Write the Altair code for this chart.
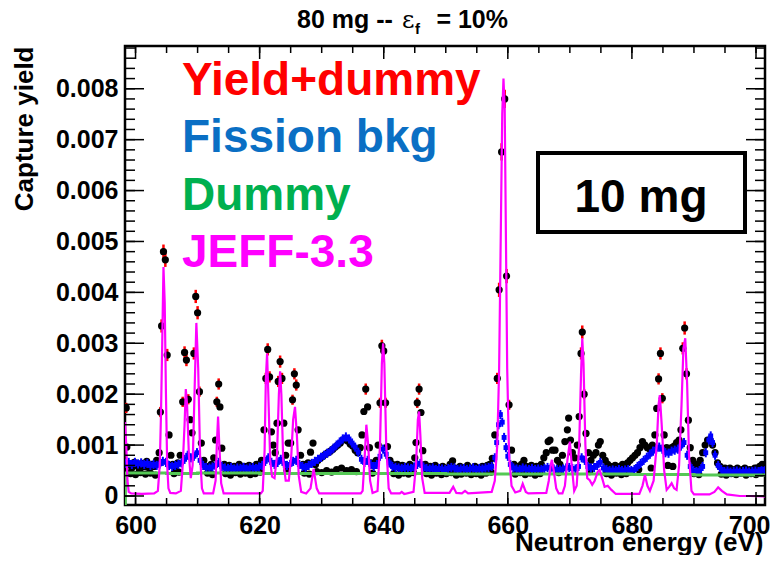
import altair as alt
import pandas as pd

FONT = "Liberation Sans"
W, H = 640, 459
X_DOM = [598.3, 701.45]
Y_DOM = [-0.000177, 0.00884]

# Yield+dummy points: (energy eV, yield x1e-3, [error x1e-3])
YIELD = [
    (598.5, 1.73, 0.1), (598.6, 0.96), (598.8, 0.45), (599.0, 0.62), (599.4, 0.55), (599.8, 0.66),
    (600.2, 0.60), (600.6, 0.52), (601.0, 0.64), (601.4, 0.58), (601.8, 0.68), (602.2, 0.55),
    (602.6, 0.62), (603.0, 0.58), (603.4, 0.70), (603.8, 0.85), (604.0, 1.65, 0.1), (604.2, 3.34, 0.13),
    (604.5, 4.80, 0.14), (604.8, 4.64, 0.14), (605.1, 2.77, 0.12), (605.4, 1.20), (605.7, 0.80),
    (606.0, 0.62), (606.4, 0.55), (606.8, 0.65), (607.2, 0.80), (607.6, 1.85, 0.1), (607.9, 2.82, 0.12),
    (608.2, 2.67, 0.12), (608.5, 1.90, 0.1), (608.8, 1.50), (609.1, 1.24), (609.4, 2.80, 0.12),
    (609.7, 3.92, 0.13), (610.0, 3.60, 0.13), (610.3, 2.05, 0.1), (610.6, 1.04), (611.0, 0.70),
    (611.4, 0.58), (611.8, 0.52), (612.2, 0.62), (612.6, 0.75), (612.9, 1.10), (613.1, 1.85, 0.1),
    (613.4, 2.20, 0.11), (613.6, 1.75), (613.9, 0.94), (614.3, 0.62), (614.7, 0.55), (615.1, 0.60),
    (615.5, 0.50), (615.9, 0.58), (616.3, 0.55), (616.7, 0.62), (617.1, 0.52), (617.5, 0.58),
    (617.9, 0.50), (618.3, 0.60), (618.7, 0.55), (619.1, 0.58), (619.5, 0.62), (619.9, 0.55),
    (620.3, 0.70), (620.7, 1.30), (621.0, 2.31, 0.11), (621.3, 2.88, 0.12), (621.6, 2.34, 0.11),
    (621.9, 1.26), (622.2, 1.00), (622.5, 0.85), (622.8, 1.43), (623.0, 2.25, 0.11), (623.3, 2.64, 0.12),
    (623.6, 2.31, 0.11), (623.9, 1.43), (624.2, 0.80), (624.6, 1.04), (625.0, 1.04), (625.3, 1.89, 0.1),
    (625.6, 2.40, 0.11), (625.9, 2.18, 0.11), (626.2, 1.30), (626.6, 0.80), (627.0, 0.62), (627.4, 0.58),
    (627.8, 0.65), (628.2, 0.86), (628.6, 1.04), (629.0, 0.62), (629.4, 0.70), (629.8, 0.74),
    (630.2, 0.78), (630.6, 0.82), (631.0, 0.85), (631.4, 0.88), (631.8, 0.92), (632.2, 0.96),
    (632.6, 1.00), (633.0, 1.04), (633.4, 1.10), (633.8, 1.12), (634.2, 1.08), (634.6, 1.02),
    (635.0, 0.98), (635.4, 0.90), (635.8, 0.85), (636.2, 0.95), (636.5, 1.20), (636.8, 1.66),
    (637.1, 2.10, 0.11), (637.4, 1.75), (637.7, 0.95), (638.0, 0.65), (638.4, 0.60), (638.8, 0.70),
    (639.1, 1.00), (639.4, 1.83, 0.1), (639.7, 2.95, 0.12), (640.0, 2.85, 0.12), (640.3, 1.83, 0.1),
    (640.6, 0.97), (641.0, 0.70), (641.4, 0.62), (641.8, 0.58), (642.2, 0.62), (642.6, 0.55),
    (643.0, 0.60), (643.4, 0.58), (643.8, 0.55), (644.2, 0.62), (644.6, 0.58), (645.0, 0.75),
    (645.2, 1.05), (645.4, 1.83, 0.1), (645.7, 2.10, 0.11), (646.0, 1.64), (646.3, 0.89), (646.7, 0.62),
    (647.1, 0.55), (647.5, 0.58), (647.9, 0.52), (648.3, 0.60), (648.7, 0.55), (649.1, 0.50),
    (649.5, 0.58), (649.9, 0.52), (650.3, 0.55), (650.7, 0.62), (651.1, 0.69), (651.5, 0.55),
    (651.9, 0.50), (652.3, 0.58), (652.7, 0.52), (653.1, 0.55), (653.5, 0.60), (653.9, 0.52),
    (654.3, 0.55), (654.7, 0.58), (655.1, 0.50), (655.5, 0.55), (655.9, 0.58), (656.3, 0.52),
    (656.7, 0.60), (657.1, 0.62), (657.5, 0.74), (657.9, 1.20), (658.3, 2.31, 0.11), (658.6, 4.05, 0.14),
    (659.0, 6.76, 0.17), (659.5, 7.80, 0.18), (659.8, 4.32, 0.14), (660.2, 1.79, 0.1), (660.6, 0.90),
    (661.0, 0.62), (661.4, 0.58), (661.8, 0.55), (662.2, 0.62), (662.6, 0.70), (663.0, 0.58),
    (663.4, 0.55), (663.8, 0.60), (664.2, 0.52), (664.6, 0.58), (665.0, 0.55), (665.4, 0.62),
    (665.8, 0.75), (666.2, 0.85), (666.5, 1.07), (666.8, 1.10), (667.2, 0.90), (667.6, 0.90),
    (668.0, 0.70), (668.4, 0.62), (668.8, 0.80), (669.2, 1.07), (669.6, 1.30), (669.8, 1.53),
    (670.1, 1.10), (670.4, 0.85), (670.8, 0.75), (671.2, 1.00), (671.5, 1.56), (671.8, 2.80, 0.12),
    (672.0, 3.22, 0.13), (672.3, 2.00, 0.1), (672.6, 1.23), (673.0, 0.85), (673.4, 0.70), (673.8, 0.80),
    (674.2, 0.85), (674.6, 1.00), (674.9, 1.07), (675.3, 0.80), (675.7, 0.70), (676.1, 0.62),
    (676.5, 0.58), (676.9, 0.55), (677.3, 0.60), (677.7, 0.55), (678.1, 0.58), (678.5, 0.62),
    (678.9, 0.58), (679.3, 0.65), (679.7, 0.70), (680.1, 0.75), (680.5, 0.80), (680.9, 0.85),
    (681.3, 0.95), (681.7, 1.07), (682.1, 1.00), (682.5, 0.95), (682.9, 0.92), (683.3, 1.00),
    (683.7, 1.20), (684.0, 1.72), (684.3, 2.30, 0.11), (684.6, 2.80, 0.12), (684.9, 1.92, 0.1),
    (685.2, 1.20), (685.6, 0.95), (686.0, 0.92), (686.4, 0.95), (686.8, 0.98), (687.2, 1.05),
    (687.6, 1.10), (687.9, 1.30), (688.2, 2.90, 0.12), (688.5, 3.30, 0.13), (688.8, 2.40, 0.11),
    (689.1, 1.49), (689.4, 0.95), (689.8, 0.70), (690.2, 0.62), (690.6, 0.60), (691.0, 0.70),
    (691.4, 0.85), (691.8, 1.00), (692.2, 1.10), (692.6, 1.10), (693.0, 1.00), (693.4, 0.85),
    (693.8, 0.65), (694.2, 0.58), (694.6, 0.52), (695.0, 0.55), (695.4, 0.50), (695.8, 0.55),
    (696.2, 0.52), (696.6, 0.48), (697.0, 0.55), (697.4, 0.50), (697.8, 0.52), (698.2, 0.55),
    (698.6, 0.50), (699.0, 0.52), (699.4, 0.48), (699.8, 0.55), (700.2, 0.52), (700.6, 0.58),
    (701.0, 0.62), (701.3, 0.55),
]
# lower-lying yield+dummy points of the baseline band (sitting near the dummy level)
YIELD_LOW = [
    (599.2, .44), (600.0, .42), (600.8, .46), (601.6, .43), (602.4, .45), (603.2, .41), (606.2, .44),
    (607.0, .47), (611.6, .45), (612.4, .42), (614.5, .44), (615.3, .41), (616.1, .46), (616.9, .43),
    (617.7, .45), (618.5, .42), (619.3, .44), (620.1, .47), (624.4, .50), (627.2, .45), (628.0, .43),
    (629.2, .48), (630.0, .46), (630.8, .50), (631.6, .47), (632.4, .52), (633.2, .55), (634.0, .50),
    (634.8, .52), (635.6, .48), (638.2, .45), (641.6, .44), (642.4, .41), (643.2, .45), (644.0, .43),
    (644.8, .46), (646.9, .44), (647.7, .41), (648.5, .45), (649.3, .42), (650.1, .44), (650.9, .46),
    (651.7, .41), (652.5, .43), (653.3, .45), (654.1, .42), (654.9, .44), (655.7, .41), (656.5, .45),
    (657.3, .47), (661.2, .43), (662.0, .46), (662.8, .42), (663.6, .45), (664.4, .41), (665.2, .44),
    (668.2, .46), (673.2, .48), (675.9, .44), (676.7, .41), (677.5, .45), (678.3, .42), (679.1, .44),
    (679.9, .47), (681.1, .52), (683.1, .55), (685.8, .60), (686.6, .58), (690.0, .44), (690.8, .42),
    (694.4, .43), (695.2, .41), (696.0, .44), (696.8, .42), (697.6, .45), (698.4, .41), (699.2, .44),
    (700.0, .42), (700.8, .45), (701.4, .48),
]
YIELD_ERR_DEFAULT = 0.05

# Fission background: (energy eV, yield x1e-3)
FISSION = [
    (598.4, .64), (598.9, .66), (599.4, .62), (599.9, .66), (600.4, .63), (600.9, .65), (601.4, .62),
    (601.9, .64), (602.4, .60), (602.9, .62), (603.4, .60), (603.9, .63), (604.4, .68), (604.9, .66),
    (605.4, .60), (605.9, .58), (606.4, .60), (606.9, .62), (607.4, .65), (607.9, .72), (608.4, .80),
    (608.9, .75), (609.4, .78), (609.9, .85), (610.4, .70), (610.9, .60), (611.4, .56), (611.9, .55),
    (612.4, .57), (612.9, .60), (613.4, .66), (613.9, .58), (614.4, .55), (614.9, .54), (615.4, .56),
    (615.9, .53), (616.4, .55), (616.9, .54), (617.4, .56), (617.9, .53), (618.4, .55), (618.9, .56),
    (619.4, .54), (619.9, .57), (620.4, .60), (620.9, .68), (621.4, .75), (621.9, .66), (622.4, .62),
    (622.9, .66), (623.4, .72), (623.9, .64), (624.4, .60), (624.9, .62), (625.4, .68), (625.9, .70),
    (626.4, .62), (626.9, .58), (627.4, .56), (627.9, .60), (628.4, .64), (628.9, .68), (629.4, .72),
    (629.9, .76), (630.4, .80), (630.9, .84), (631.4, .88), (631.9, .94), (632.4, 1.00), (632.9, 1.06),
    (633.4, 1.12), (633.9, 1.16), (634.4, 1.12), (634.9, 1.04), (635.4, .96), (635.9, .86), (636.4, .72),
    (636.9, .66), (637.4, .70), (637.9, .62), (638.4, .58), (638.9, .62), (639.4, .78), (639.9, .92),
    (640.4, .82), (640.9, .65), (641.4, .58), (641.9, .56), (642.4, .55), (642.9, .54), (643.4, .56),
    (643.9, .55), (644.4, .54), (644.9, .57), (645.4, .62), (645.9, .64), (646.4, .57), (646.9, .54),
    (647.4, .53), (647.9, .55), (648.4, .52), (648.9, .54), (649.4, .53), (649.9, .52), (650.4, .54),
    (650.9, .56), (651.4, .55), (651.9, .52), (652.4, .53), (652.9, .54), (653.4, .52), (653.9, .53),
    (654.4, .55), (654.9, .52), (655.4, .54), (655.9, .53), (656.4, .55), (656.9, .56), (657.4, .58),
    (657.9, .75), (658.2, 1.05), (658.5, 1.40), (658.8, 1.60), (659.1, 1.45), (659.4, 1.15), (659.7, .95),
    (660.0, .78), (660.4, .62), (660.9, .55), (661.4, .53), (661.9, .52), (662.4, .55), (662.9, .53),
    (663.4, .52), (663.9, .54), (664.4, .52), (664.9, .53), (665.4, .52), (665.9, .54), (666.4, .56),
    (666.9, .55), (667.4, .53), (667.9, .52), (668.4, .51), (668.9, .53), (669.4, .55), (669.9, .56),
    (670.4, .54), (670.9, .53), (671.4, .58), (671.9, .75), (672.4, .70), (672.9, .58), (673.4, .55),
    (673.9, .56), (674.4, .60), (674.9, .66), (675.4, .55), (675.9, .52), (676.4, .50), (676.9, .51),
    (677.4, .50), (677.9, .52), (678.4, .50), (678.9, .51), (679.4, .52), (679.9, .50), (680.4, .52),
    (680.9, .58), (681.4, .64), (681.9, .70), (682.4, .76), (682.9, .82), (683.4, .88), (683.9, .92),
    (684.4, .96), (684.9, .92), (685.4, .85), (685.9, .84), (686.4, .88), (686.9, .90), (687.4, .92),
    (687.9, .98), (688.4, 1.05), (688.9, .80), (689.4, .58), (689.9, .50), (690.4, .48), (690.9, .50),
    (691.4, .58), (691.9, .85), (692.4, 1.10), (692.7, 1.18), (693.0, 1.05), (693.4, .80), (693.9, .60),
    (694.4, .52), (694.9, .48), (695.4, .49), (695.9, .47), (696.4, .48), (696.9, .49), (697.4, .47),
    (697.9, .48), (698.4, .49), (698.9, .47), (699.4, .48), (699.9, .49), (700.4, .48), (700.9, .52),
    (701.4, .50),
]
FISSION_ERR = 0.09

# Dummy: (energy eV, yield x1e-3)
DUMMY = [
    (598.32, -0.3), (598.35, 0.45), (605, 0.44), (610, 0.45), (620, 0.44), (630, 0.44), (640, 0.44),
    (650, 0.43), (660, 0.43), (670, 0.43), (680, 0.42), (690, 0.41), (701.45, 0.41),
]

# JEFF-3.3: (energy eV, yield x1e-3)
JEFF = [
    (598.3, 1.45), (598.5, 1.0), (598.7, 0.3), (598.9, 0.08), (599.3, 0.05), (601.0, 0.04), (603.0, 0.05),
    (603.6, 0.1), (603.9, 0.6), (604.1, 1.6), (604.3, 3.0), (604.5, 4.5), (604.7, 3.8), (604.9, 2.0),
    (605.1, 0.6), (605.3, 0.15), (605.6, 0.06), (606.5, 0.05), (607.3, 0.1), (607.6, 0.6), (607.9, 1.4),
    (608.1, 2.1), (608.3, 1.8), (608.6, 0.8), (608.9, 0.35), (609.2, 0.6), (609.5, 2.0), (609.8, 3.4),
    (610.1, 2.5), (610.4, 0.8), (610.7, 0.15), (611.0, 0.05), (612.5, 0.05), (612.9, 0.3), (613.1, 1.0),
    (613.3, 1.56), (613.5, 1.0), (613.8, 0.25), (614.2, 0.05), (620.2, 0.05), (620.5, 0.1), (620.8, 0.9),
    (621.0, 2.3), (621.2, 2.8), (621.4, 2.0), (621.7, 0.7), (622.0, 0.38), (622.4, 0.35), (622.8, 0.8),
    (623.1, 2.0), (623.3, 2.45), (623.5, 2.0), (623.8, 0.7), (624.2, 0.3), (624.7, 0.3), (625.1, 0.8),
    (625.4, 1.5), (625.7, 1.75), (626.0, 1.2), (626.3, 0.4), (626.7, 0.08), (627.5, 0.05), (628.2, 0.15),
    (628.7, 0.53), (629.2, 0.15), (629.6, 0.05), (636.3, 0.05), (636.6, 0.1), (636.9, 0.7), (637.2, 1.4),
    (637.5, 1.0), (637.8, 0.3), (638.2, 0.06), (639.0, 0.1), (639.4, 1.0), (639.7, 2.6), (639.9, 3.0),
    (640.1, 2.6), (640.4, 1.0), (640.8, 0.15), (641.2, 0.05), (642.6, 0.05), (642.9, 0.08), (643.3, 0.04),
    (644.8, 0.08), (645.2, 0.6), (645.5, 1.5), (645.7, 1.66), (645.9, 1.2), (646.2, 0.35), (646.6, 0.06),
    (650.6, 0.06), (651.2, 0.18), (651.7, 0.06), (652.6, 0.05), (653.1, 0.1), (653.6, 0.05), (657.4, 0.08),
    (657.9, 0.3), (658.3, 1.0), (658.6, 2.5), (658.9, 5.5), (659.1, 7.5), (659.3, 8.2), (659.5, 7.6),
    (659.7, 5.0), (659.9, 2.5), (660.2, 0.8), (660.6, 0.2), (661.2, 0.07), (662.0, 0.1), (662.4, 0.24),
    (662.9, 0.08), (663.3, 0.05), (666.2, 0.06), (666.6, 0.3), (666.9, 0.6), (667.1, 0.71), (667.4, 0.5),
    (667.8, 0.15), (668.2, 0.05), (668.8, 0.05), (669.2, 0.2), (669.6, 0.7), (670.0, 1.07), (670.3, 0.6),
    (670.7, 0.1), (671.1, 0.2), (671.5, 1.0), (671.8, 2.4), (672.0, 3.1), (672.2, 2.6), (672.5, 1.0),
    (672.8, 0.35), (673.2, 0.31), (673.6, 0.22), (674.0, 0.3), (674.5, 0.48), (674.8, 0.51), (675.2, 0.35),
    (675.6, 0.18), (676.1, 0.2), (676.7, 0.12), (677.4, 0.04), (681.2, 0.04), (681.7, 0.2), (682.1, 0.41),
    (682.5, 0.2), (682.9, 0.1), (683.5, 0.3), (684.0, 1.0), (684.3, 1.8), (684.5, 1.98), (684.8, 1.4),
    (685.2, 0.5), (685.6, 0.12), (686.0, 0.18), (686.4, 0.25), (686.8, 0.15), (687.2, 0.12), (687.6, 0.6),
    (688.0, 1.8), (688.3, 2.9), (688.6, 3.1), (688.9, 2.2), (689.2, 0.8), (689.6, 0.1), (690.0, 0.03),
    (692.5, 0.03), (693.3, 0.08), (693.9, 0.17), (694.5, 0.1), (695.3, 0.03), (697.4, 0.0), (699.0, 0.0),
    (701.45, -0.01),
]

X_MAJOR = [600, 620, 640, 660, 680, 700]
X_MINOR = [600, 605, 610, 615, 620, 625, 630, 635, 640, 645, 650, 655, 660, 665, 670, 675, 680,
           685, 690, 695, 700]
Y_MAJOR = [0, 0.001, 0.002, 0.003, 0.004, 0.005, 0.006, 0.007, 0.008]
Y_MINOR = [0, 0.2, 0.4, 0.6, 0.8, 1.0, 1.2, 1.4, 1.6, 1.8, 2.0, 2.2, 2.4, 2.6, 2.8, 3.0, 3.2, 3.4,
           3.6, 3.8, 4.0, 4.2, 4.4, 4.6, 4.8, 5.0, 5.2, 5.4, 5.6, 5.8, 6.0, 6.2, 6.4, 6.6, 6.8, 7.0,
           7.2, 7.4, 7.6, 7.8, 8.0, 8.2, 8.4, 8.6, 8.8]

LEGEND = [("Yield+dummy", "#ff0000"), ("Fission bkg", "#0a6fc4"), ("Dummy", "#00b04f"),
          ("JEFF-3.3", "#ff00ff")]

# ---------- data frames ----------
S = 1e-3
pts = YIELD + YIELD_LOW
yd = pd.DataFrame({"E": [p[0] for p in pts], "Y": [p[1] * S for p in pts]})
yerr = [(p[2] if len(p) > 2 else YIELD_ERR_DEFAULT) * S for p in pts]
yd["lo"] = yd["Y"] - yerr
yd["hi"] = yd["Y"] + yerr

fd = pd.DataFrame({"E": [p[0] for p in FISSION], "Y": [p[1] * S for p in FISSION]})
fd["lo"] = fd["Y"] - FISSION_ERR * S
fd["hi"] = fd["Y"] + FISSION_ERR * S

dd = pd.DataFrame({"E": [p[0] for p in DUMMY], "Y": [p[1] * S for p in DUMMY]})
jd = pd.DataFrame({"E": [p[0] for p in JEFF], "Y": [p[1] * S for p in JEFF]})

xs = alt.Scale(domain=X_DOM, nice=False, zero=False)
ys = alt.Scale(domain=Y_DOM, nice=False, zero=False)

x_axis = alt.Axis(values=X_MAJOR, ticks=False, tickSize=0, domain=False, grid=False,
                  labelFont=FONT, labelFontWeight="bold", labelFontSize=25, labelPadding=8,
                  labelFlush=10, labelFlushOffset=14, labelColor="black", format="d",
                  labelOverlap=False,
                  title="Neutron energy (eV)", titleFont=FONT, titleFontWeight="bold",
                  titleFontSize=26, titleColor="black", titleX=638, titleY=45,
                  titleAlign="right", titleBaseline="alphabetic")
y_axis = alt.Axis(values=Y_MAJOR, ticks=False, tickSize=0, domain=False, grid=False,
                  labelFont=FONT, labelFontWeight="bold", labelFontSize=25, labelPadding=7,
                  labelColor="black", labelOverlap=False, labelFlush=False,
                  labelExpr="datum.value == 0 ? '0' : format(datum.value, '.3f')",
                  title="Capture yield", titleFont=FONT, titleFontWeight="bold",
                  titleFontSize=26, titleColor="black", titleX=-93, titleY=0, titleAngle=270,
                  titleAlign="right", titleBaseline="alphabetic")


def X(f="E"):
    return alt.X(f"{f}:Q", scale=xs, axis=x_axis)


def Y(f="Y"):
    return alt.Y(f"{f}:Q", scale=ys, axis=y_axis)


layers = []
# yield+dummy red error bars and black markers
layers.append(alt.Chart(yd).mark_rule(color="#ff0000", strokeWidth=2.5, clip=True).encode(
    x=X(), y=Y("lo"), y2="hi"))
layers.append(alt.Chart(yd).mark_circle(color="black", size=52, opacity=1, clip=True).encode(
    x=X(), y=Y()))
# fission bkg
layers.append(alt.Chart(fd).mark_rule(color="#0000ff", strokeWidth=2, clip=True).encode(
    x=X(), y=Y("lo"), y2="hi"))
layers.append(alt.Chart(fd).mark_square(color="#0000ff", size=24, opacity=1, clip=True).encode(
    x=X(), y=Y()))
# dummy
layers.append(alt.Chart(dd).mark_line(color="#55c855", strokeWidth=3, clip=True,
                                      interpolate="step-after").encode(x=X(), y=Y()))
# JEFF
layers.append(alt.Chart(jd).mark_line(color="#ff00ff", strokeWidth=2.2, clip=True).encode(
    x=X(), y=Y()))

# ticks (inside, ROOT style)
xmaj = pd.DataFrame({"E": X_MAJOR})
xmin = pd.DataFrame({"E": X_MINOR})
ymaj = pd.DataFrame({"Y": Y_MAJOR})
ymin = pd.DataFrame({"Y": [v * S for v in Y_MINOR]})
tk = dict(color="black", strokeWidth=1.5, clip=True)
layers.append(alt.Chart(xmaj).mark_rule(**tk).encode(x=X(), y=alt.value(H), y2=alt.value(H - 13)))
layers.append(alt.Chart(xmin).mark_rule(**tk).encode(x=X(), y=alt.value(H), y2=alt.value(H - 7)))
layers.append(alt.Chart(xmaj).mark_rule(**tk).encode(x=X(), y=alt.value(0), y2=alt.value(13)))
layers.append(alt.Chart(xmin).mark_rule(**tk).encode(x=X(), y=alt.value(0), y2=alt.value(7)))
layers.append(alt.Chart(ymaj).mark_rule(**tk).encode(y=Y(), x=alt.value(0), x2=alt.value(19)))
layers.append(alt.Chart(ymin).mark_rule(**tk).encode(y=Y(), x=alt.value(0), x2=alt.value(10)))
layers.append(alt.Chart(ymaj).mark_rule(**tk).encode(y=Y(), x=alt.value(W), x2=alt.value(W - 19)))
layers.append(alt.Chart(ymin).mark_rule(**tk).encode(y=Y(), x=alt.value(W), x2=alt.value(W - 10)))

one = pd.DataFrame({"a": [0]})
# legend texts
for i, (txt, col) in enumerate(LEGEND):
    layers.append(alt.Chart(one).mark_text(text=txt, font=FONT, fontWeight="bold", fontSize=46,
                                           color=col, align="left", baseline="alphabetic").encode(
        x=alt.value(57), y=alt.value(49 + 57.3 * i)))

# 10 mg box
layers.append(alt.Chart(one).mark_rect(fill="white", stroke="black", strokeWidth=4).encode(
    x=alt.value(413), x2=alt.value(620), y=alt.value(107), y2=alt.value(186)))
layers.append(alt.Chart(one).mark_text(text="10 mg", font=FONT, fontWeight="bold", fontSize=46,
                                       color="black", align="center", baseline="alphabetic").encode(
    x=alt.value(516), y=alt.value(166)))


def title_piece(txt, x, y, size=25, font=FONT, weight="bold", align="left"):
    return alt.Chart(one).mark_text(text=txt, font=font, fontWeight=weight, fontSize=size,
                                    color="black", align=align, baseline="alphabetic").encode(
        x=alt.value(x), y=alt.value(y))


# title: 80 mg -- eps_f = 10%
layers.append(title_piece("80 mg --", 172, -18))
layers.append(title_piece("ε", 277, -18, size=24, font="DejaVu Serif", weight="normal"))
layers.append(title_piece("f", 290, -12, size=15))
layers.append(title_piece("= 10%", 383, -18, align="right"))

chart = alt.layer(*layers).properties(
    width=W, height=H,
    padding={"left": 117, "top": 38, "right": 5, "bottom": 50},
    autosize=alt.AutoSizeParams(type="none"),
    background="white",
).configure_view(stroke="black", strokeWidth=2.5)

chart.save("out.html", embed_options={"renderer": "svg", "actions": False})
